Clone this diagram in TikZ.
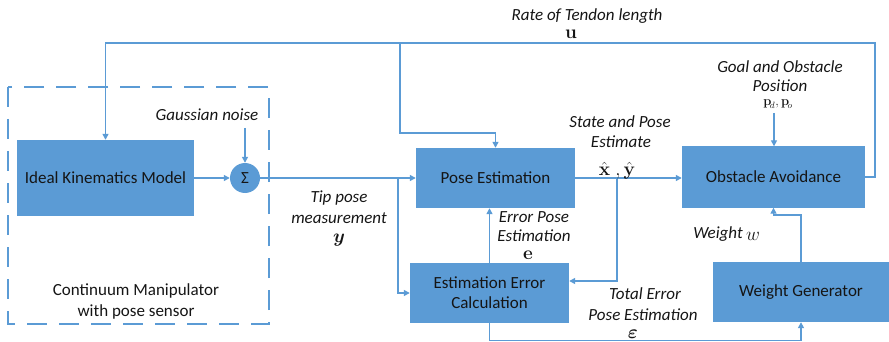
\RequirePackage{fix-cm}
\documentclass[tikz,border=0pt]{standalone}
\usepackage{amsmath,bm}
\usepackage[no-math]{fontspec}
\setmainfont{Carlito}
\usetikzlibrary{arrows.meta}
\definecolor{blu}{HTML}{5B9BD5}
\definecolor{txt}{HTML}{151515}
\begin{document}
\begin{tikzpicture}[x=1pt,y=-1pt,
  font=\fontsize{17}{20}\selectfont,
  blk/.style={fill=blu, text=txt, inner sep=0pt, align=center},
  wire/.style={draw=blu, line width=1.4pt, -{Triangle[length=6pt,width=6pt]}},
  lbl/.style={text=txt, inner sep=0pt, font=\fontsize{17}{20}\selectfont\itshape},
  sym/.style={text=txt, inner sep=0pt, font=\fontsize{19}{22}\selectfont}]
\useasboundingbox (0,0) rectangle (889,342);

% dashed enclosure of the manipulator
\draw[blu, line width=1.4pt, dash pattern=on 20pt off 12pt] (8,87) rectangle (269,324);

% blocks
\node[blk, minimum width=177pt, minimum height=76pt] (ikm) at (105.5,178) {Ideal Kinematics Model};
\node[circle, fill=blu, text=txt, minimum size=30pt, inner sep=0pt] (sum) at (245,178) {Σ};
\node[blk, minimum width=159pt, minimum height=60pt] (pose) at (495.5,178) {Pose Estimation};
\node[blk, minimum width=159pt, minimum height=60pt] (eec) at (489.5,293) {Estimation Error\\Calculation};
\node[blk, minimum width=183pt, minimum height=61pt] (obs) at (773.5,177) {Obstacle Avoidance};
\node[blk, minimum width=176pt, minimum height=60pt] (wg) at (801,292) {Weight Generator};

% free ends and branch points
\coordinate (gn) at (245,128);
\coordinate (gp) at (774,113);
\coordinate (br1) at (398,178);
\coordinate (br2) at (617,178);
\coordinate (top) at (875,43);
\coordinate (tb) at (400,43);
\coordinate (tk) at (400,133);

% connectors
\draw[wire] (ikm.east) -- (sum.west);
\draw[wire] (gn) -- (sum.north);
\draw[wire] (sum.east) -- (pose.west);
\draw[wire] (br1) |- (eec.west);
\draw[wire] (eec.north) -- (eec.north |- pose.south);
\draw[wire] (pose.east) -- (pose.east -| obs.west);
\draw[wire] (br2) |- ([yshift=12pt]eec.east);
\draw[wire] (gp) -- (gp |- obs.north);
\draw[wire] (wg.north) -- ++(0,-47) -| (obs.south);
\draw[wire] (eec.south) -- ++(0,17) -| (wg.south);
\draw[wire] (obs.east) -| (top) -| (ikm.north);
\draw[wire] (tb) -- (tk) -| (pose.north);

% labels
\node[lbl] (rate) at (587,16) {Rate of Tendon length};
\node[sym] (u) at (571,34) {$\bm{\mathrm{u}}$};
\node[lbl] (noise) at (207,115) {Gaussian noise};
\node[lbl] (tip1) at (339,198) {Tip pose};
\node[lbl] (tip2) at (339,218) {measurement};
\node[sym] (ysym) at (339,240) {$\bm{y}$};
\node[lbl] (ep1) at (534,217) {Error Pose};
\node[lbl] (ep2) at (534,236) {Estimation};
\node[sym] (esym) at (528,255) {$\bm{\mathrm{e}}$};
\node[lbl] (sp1) at (620,122) {State and Pose};
\node[lbl] (sp2) at (621,142) {Estimate};
\node[sym] (xy) at (617,171) {$\hat{\bm{\mathrm{x}}}\;,\hat{\bm{\mathrm{y}}}$};
\node[lbl] (go1) at (780,67) {Goal and Obstacle};
\node[lbl] (go2) at (780,86) {Position};
\node[sym, font=\fontsize{13}{15}\selectfont] (pdo) at (778,104) {$\bm{\mathrm{p}}_{\!d},\bm{\mathrm{p}}_{\!o}$};
\node[lbl] (wt) at (718,234) {Weight};
\node[sym] (wsym) at (753,236) {$w$};
\node[lbl] (te1) at (645,294) {Total Error};
\node[lbl] (te2) at (643,315) {Pose Estimation};
\node[sym] (eps) at (633,334) {$\bm{\varepsilon}$};
\node[text=txt, inner sep=0pt] (cm1) at (136,291) {Continuum Manipulator};
\node[text=txt, inner sep=0pt] (cm2) at (136,312) {with pose sensor};
\end{tikzpicture}
\end{document}
